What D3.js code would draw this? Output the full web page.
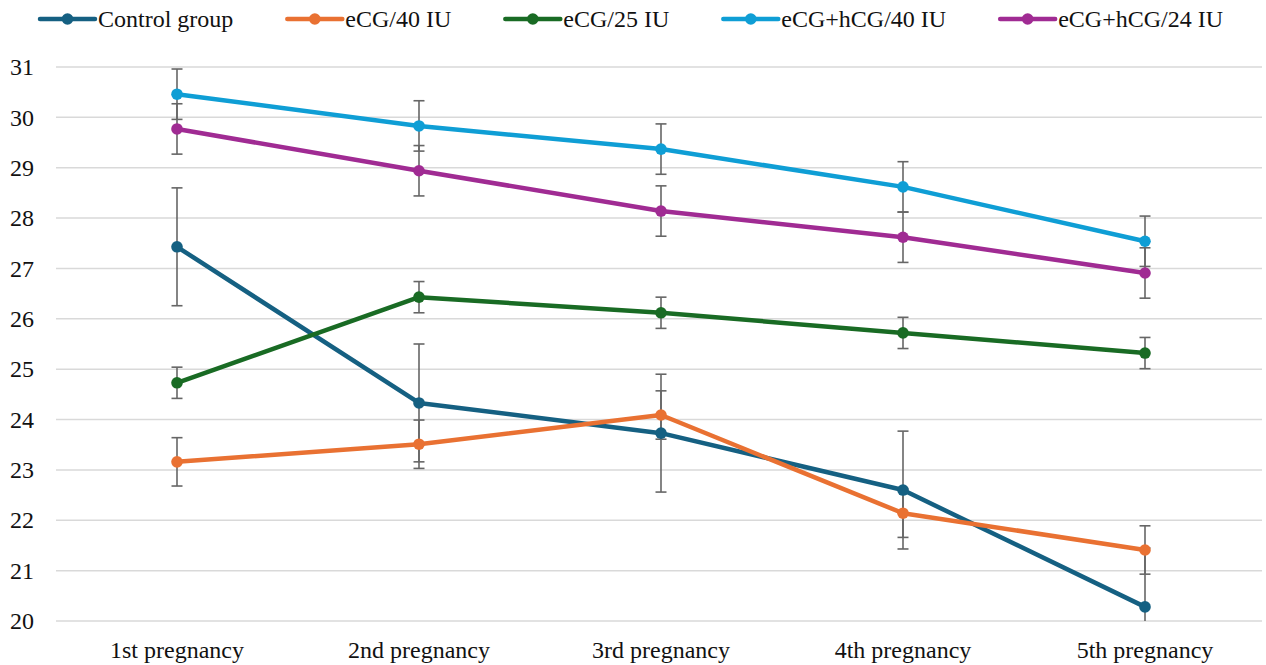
<!DOCTYPE html>
<html>
<head>
<meta charset="utf-8">
<script src="https://cdn.jsdelivr.net/npm/d3@7"></script>
<style>
  html, body { margin: 0; padding: 0; background: #fff; }
  svg { display: block; font-family: "Liberation Serif", "Times New Roman", serif; }
</style>
</head>
<body>
<svg id="chart" width="1266" height="665"></svg>
<script>
// Pregnancy stages along the x axis
const categories = ["1st pregnancy", "2nd pregnancy", "3rd pregnancy", "4th pregnancy", "5th pregnancy"];

// Series names, means and error (±) per pregnancy
const seriesNames = ["Control group", "eCG/40 IU", "eCG/25 IU", "eCG+hCG/40 IU", "eCG+hCG/24 IU"];
const controlValues = [27.43, 24.33, 23.73, 22.60, 20.28];
const controlErrors = [1.17, 1.17, 1.17, 1.17, 1.17];
const ecg40Values = [23.16, 23.51, 24.09, 22.14, 21.41];
const ecg40Errors = [0.48, 0.48, 0.48, 0.48, 0.48];
const ecg25Values = [24.73, 26.43, 26.12, 25.72, 25.32];
const ecg25Errors = [0.31, 0.31, 0.31, 0.31, 0.31];
const ecgHcg40Values = [30.46, 29.83, 29.37, 28.62, 27.54];
const ecgHcg40Errors = [0.50, 0.50, 0.50, 0.50, 0.50];
const ecgHcg24Values = [29.77, 28.94, 28.14, 27.62, 26.91];
const ecgHcg24Errors = [0.50, 0.50, 0.50, 0.50, 0.50];

// y axis ticks
const yTicks = [20, 21, 22, 23, 24, 25, 26, 27, 28, 29, 30, 31];

const colors = ["#156082", "#E97132", "#196B24", "#0F9ED5", "#A02B93"];

const series = [
  { name: seriesNames[0], values: controlValues, errors: controlErrors, color: colors[0] },
  { name: seriesNames[1], values: ecg40Values, errors: ecg40Errors, color: colors[1] },
  { name: seriesNames[2], values: ecg25Values, errors: ecg25Errors, color: colors[2] },
  { name: seriesNames[3], values: ecgHcg40Values, errors: ecgHcg40Errors, color: colors[3] },
  { name: seriesNames[4], values: ecgHcg24Values, errors: ecgHcg24Errors, color: colors[4] }
];

const svg = d3.select("#chart");
const margin = { left: 56, right: 1266, top: 67, bottom: 621 };
const fontSize = 24;

const x = d3.scaleBand().domain(categories).range([margin.left, margin.right]);
const y = d3.scaleLinear().domain([20, 31]).range([margin.bottom, margin.top]);
const cx = c => x(c) + x.bandwidth() / 2;

// gridlines
svg.append("g")
  .selectAll("line")
  .data(yTicks)
  .join("line")
  .attr("x1", margin.left)
  .attr("x2", 1262)
  .attr("y1", d => y(d))
  .attr("y2", d => y(d))
  .attr("stroke", "#d9d9d9")
  .attr("stroke-width", 1.5);

// y axis labels
const yAxis = d3.axisLeft(y).tickValues(yTicks).tickSize(0).tickPadding(0);
svg.append("g")
  .attr("transform", "translate(34,0)")
  .call(yAxis)
  .call(g => g.select(".domain").remove())
  .call(g => g.selectAll("text")
    .attr("font-family", "Liberation Serif, serif")
    .attr("font-size", fontSize)
    .attr("fill", "#111"));

// x axis labels
const xAxis = d3.axisBottom(x).tickSize(0).tickPadding(0);
svg.append("g")
  .attr("transform", `translate(0,${margin.bottom + 20})`)
  .call(xAxis)
  .call(g => g.select(".domain").remove())
  .call(g => g.selectAll("text")
    .attr("font-family", "Liberation Serif, serif")
    .attr("font-size", fontSize)
    .attr("fill", "#111"));

// clip to plot area so error bars stop at the axis minimum
svg.append("clipPath").attr("id", "plot-clip")
  .append("rect")
  .attr("x", 0).attr("y", margin.top - 20)
  .attr("width", 1266).attr("height", margin.bottom - margin.top + 20);

const plot = svg.append("g").attr("clip-path", "url(#plot-clip)");

// error bars
const errG = plot.append("g");
series.forEach(s => {
  const pts = categories.map((c, i) => ({ c, v: s.values[i], e: s.errors[i] }));
  const g = errG.append("g");
  g.selectAll("line.v").data(pts).join("line")
    .attr("x1", d => cx(d.c)).attr("x2", d => cx(d.c))
    .attr("y1", d => y(d.v - d.e)).attr("y2", d => y(d.v + d.e))
    .attr("stroke", "#666").attr("stroke-width", 1.6);
  ["top", "bot"].forEach(k => {
    g.selectAll("line." + k).data(pts).join("line")
      .attr("x1", d => cx(d.c) - 5.5).attr("x2", d => cx(d.c) + 5.5)
      .attr("y1", d => y(k === "top" ? d.v + d.e : d.v - d.e))
      .attr("y2", d => y(k === "top" ? d.v + d.e : d.v - d.e))
      .attr("stroke", "#666").attr("stroke-width", 1.6);
  });
});

// lines and markers
const line = d3.line().x(d => cx(d.c)).y(d => y(d.v));
series.forEach(s => {
  const pts = categories.map((c, i) => ({ c, v: s.values[i] }));
  plot.append("path")
    .datum(pts)
    .attr("d", line)
    .attr("fill", "none")
    .attr("stroke", s.color)
    .attr("stroke-width", 4.5)
    .attr("stroke-linejoin", "round")
    .attr("stroke-linecap", "round");
  plot.append("g").selectAll("circle").data(pts).join("circle")
    .attr("cx", d => cx(d.c)).attr("cy", d => y(d.v))
    .attr("r", 5.8).attr("fill", s.color);
});

// legend: entries laid out left to right, spaced by their text widths
const legend = svg.append("g");
let lx = 40;
series.forEach(s => {
  const g = legend.append("g").attr("transform", `translate(${lx},19)`);
  g.append("line").attr("x1", 0).attr("x2", 55).attr("y1", 0).attr("y2", 0)
    .attr("stroke", s.color).attr("stroke-width", 4.5).attr("stroke-linecap", "round");
  g.append("circle").attr("cx", 27.5).attr("cy", 0).attr("r", 5.8).attr("fill", s.color);
  const t = g.append("text").attr("x", 58).attr("y", 0).attr("dy", "0.33em")
    .attr("font-size", fontSize).attr("fill", "#111").text(s.name);
  lx += 58 + t.node().getComputedTextLength() + 54;
});
</script>
</body>
</html>
